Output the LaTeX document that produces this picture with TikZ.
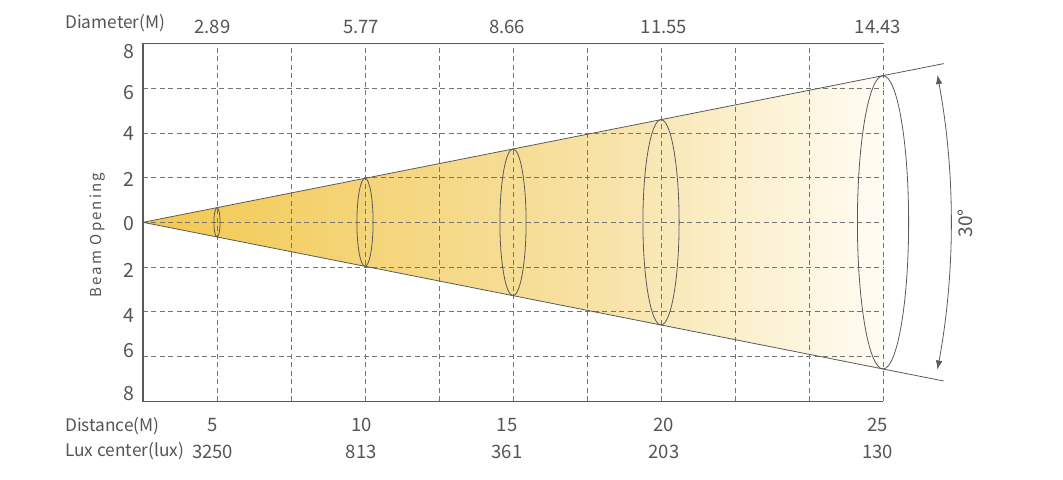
\documentclass[tikz,border=0pt]{standalone}
\usepackage{fontspec}
\setmainfont{Noto Sans CJK SC}
\usetikzlibrary{arrows.meta, calc}

\definecolor{lineGray}{HTML}{5A5A5A}
\definecolor{gridGray}{HTML}{747474}
\definecolor{txtGray}{HTML}{555555}
\definecolor{beamA}{RGB}{242,200,78}
\definecolor{beamB}{RGB}{247,226,166}
\definecolor{beamC}{RGB}{255,252,244}
\pgfdeclarehorizontalshading{beamfade}{100bp}{color(0bp)=(beamA); color(25bp)=(beamA);
  color(56bp)=(beamB); color(75bp)=(beamC); color(100bp)=(beamC)}

\begin{document}
\begin{tikzpicture}[x=74pt, y=44.7pt, >={Latex[length=9pt,width=6.5pt]},
    gridline/.style={gridGray, line width=0.8pt, dash pattern=on 5pt off 3.5pt},
    frame/.style={lineGray, line width=1.1pt},
    beamline/.style={lineGray, line width=0.8pt},
    lbl/.style={txtGray, inner sep=0pt, font=\fontsize{17.3}{20}\selectfont},
    tick/.style={txtGray, inner sep=0pt, anchor=east, font=\fontsize{19.5}{22}\selectfont}]
  \useasboundingbox (-1.932,-5.743) rectangle (12.432,4.973);

  % beam
  \coordinate (apex) at (0,0);
  \coordinate (topend) at (10.82,3.55);
  \coordinate (botend) at (10.82,-3.55);
  \shade[shading=beamfade] (apex) -- (10,3.28) -- (10,-3.28) -- cycle;

  % grid
  \foreach \i in {1,...,10}
    \draw[gridline] (\i,-4) -- (\i,4);
  \foreach \j in {-3,...,3}
    \draw[gridline] (0,\j) -- (10,\j);
  \draw[frame] (10,4) -- (0,4) -- (0,-4) -- (10,-4);

  \draw[beamline] (apex) -- (topend);
  \draw[beamline] (apex) -- (botend);

  % cross sections
  \foreach \d in {1,3,5,7,10}
    \draw[beamline] (\d,0) ellipse [x radius={0.0338*\d+0.008}, y radius={0.328*\d}];

  % angle
  \draw[lineGray, line width=0.8pt, <->] ($(apex)+(-10.5:808pt)$) arc [start angle=-10.5, end angle=10.5, radius=808pt];
  \node[lbl, rotate=90, font=\fontsize{19}{22}\selectfont] (angle) at (11.11,-0.02) {30°};

  % axis labels
  \foreach \v/\y [count=\k] in {8/3.83, 6/2.91, 4/1.98, 2/0.96, 0/-0.03, 2/-1.08, 4/-2.09, 6/-2.86, 8/-3.84}
    \node[tick] (t\k) at (-0.11,\y) {\v};
  \node[lbl, rotate=90, font=\fontsize{15}{17}\selectfont\addfontfeatures{LetterSpace=14}] (opening) at (-0.608,-0.284) {Beam Opening};

  \node[lbl, anchor=base west] (diam) at (-1.054,4.34) {Diameter(M)};
  \node[lbl, anchor=base west] (dist) at (-1.054,-4.669) {Distance(M)};
  \node[lbl, anchor=base west] (lux) at (-1.054,-5.24) {Lux center(lux)};

  \foreach \x/\a/\b/\c [count=\k] in {0.94/2.89/5/3250, 2.95/5.77/10/813, 4.92/8.66/15/361, 7.04/11.55/20/203, 9.93/14.43/25/130} {
    \node[lbl, anchor=base, font=\fontsize{18.5}{20}\selectfont] (d\k) at (\x,4.228) {\a};
    \node[lbl, anchor=base, font=\fontsize{18.5}{20}\selectfont] (m\k) at (\x,-4.669) {\b};
    \node[lbl, anchor=base, font=\fontsize{18.5}{20}\selectfont] (c\k) at (\x,-5.29) {\c};
  }
\end{tikzpicture}
\end{document}
